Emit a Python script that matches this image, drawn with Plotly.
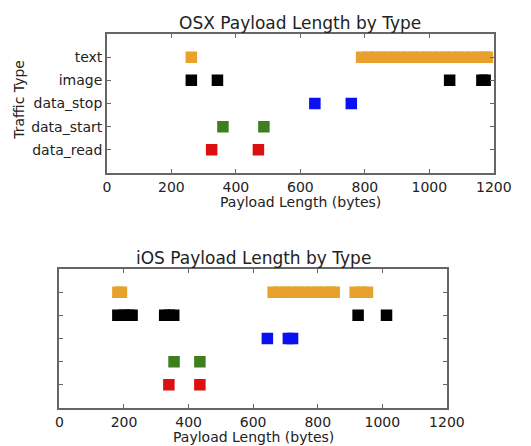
import plotly.graph_objects as go

categories = ["data_read", "data_start", "data_stop", "image", "text"]
colors = {"text": "#E8A12C", "image": "#000000", "data_stop": "#0A10F2",
          "data_start": "#3D7E1F", "data_read": "#DC1010"}

# OSX payload lengths (bytes) observed per traffic type
osx_text = [262, 790, 810, 830, 850, 870, 890, 910, 930, 950, 970, 990, 1010,
            1030, 1050, 1070, 1090, 1110, 1130, 1150, 1170, 1180]
osx_image = [262, 343, 1063, 1163, 1173]
osx_data_stop = [645, 758]
osx_data_start = [360, 487]
osx_data_read = [325, 470]

# iOS payload lengths (bytes) observed per traffic type
ios_text = [181, 192, 662, 680, 700, 720, 740, 760, 780, 800, 820, 840, 851,
            916, 935, 954]
ios_image = [181, 200, 215, 225, 326, 340, 354, 925, 1013]
ios_data_stop = [644, 709, 722]
ios_data_start = [355, 435]
ios_data_read = [339, 435]

x_ticks = [0, 200, 400, 600, 800, 1000, 1200]

osx = {"text": osx_text, "image": osx_image, "data_stop": osx_data_stop,
       "data_start": osx_data_start, "data_read": osx_data_read}
ios = {"text": ios_text, "image": ios_image, "data_stop": ios_data_stop,
       "data_start": ios_data_start, "data_read": ios_data_read}

fig = go.Figure()
for ax, data in (("", osx), ("2", ios)):
    for cat in ["text", "image", "data_stop", "data_start", "data_read"]:
        vals = data[cat]
        fig.add_trace(go.Scatter(
            x=vals, y=[categories.index(cat)] * len(vals),
            mode="markers", xaxis="x" + ax, yaxis="y" + ax,
            marker=dict(symbol="square", size=11.5, color=colors[cat], line=dict(width=0)),
            showlegend=False, hoverinfo="x+y"))

# page body has an 8px margin; figure is offset by it
OFF = 8
W, H = 531 - OFF, 446 - OFF


def px(x):
    return (x - OFF) / W


def py(y):
    return 1 - (y - OFF) / H


font = dict(family="DejaVu Sans", size=14, color="#222")
axis_common = dict(showline=True, linecolor="#666", linewidth=1.5, mirror="ticks",
                   ticks="inside", ticklen=4, tickcolor="#666", showgrid=False,
                   zeroline=False, tickfont=font)


def ann(text, x, y, size=14, angle=0):
    return dict(text=text, x=px(x), y=py(y), textangle=angle,
                xref="paper", yref="paper", showarrow=False, xanchor="center",
                yanchor="middle", font=dict(family="DejaVu Sans", size=size, color="#222"))


fig.update_layout(
    width=W, height=H, margin=dict(l=0, r=0, t=0, b=0),
    plot_bgcolor="white", paper_bgcolor="white", font=font,
    xaxis=dict(domain=[px(107), px(511)], anchor="y", range=[0, 1200],
               tickvals=x_ticks, **axis_common),
    yaxis=dict(domain=[py(173), py(34)], anchor="x", range=[-1, 5],
               tickvals=list(range(5)), ticktext=categories, **axis_common),
    xaxis2=dict(domain=[px(57.5), px(462)], anchor="y2", range=[0, 1200],
                tickvals=x_ticks, **axis_common),
    yaxis2=dict(domain=[py(408), py(269)], anchor="x2", range=[-1, 5],
                tickvals=list(range(5)), showticklabels=False, **axis_common),
    annotations=[
        ann("OSX Payload Length by Type", 309, 23, size=17),
        ann("iOS Payload Length by Type", 260, 258, size=17),
        ann("Payload Length (bytes)", 309, 202),
        ann("Payload Length (bytes)", 260, 437),
        ann("Traffic Type", 15, 100, angle=-90),
    ],
)

fig.write_html("out.html")
